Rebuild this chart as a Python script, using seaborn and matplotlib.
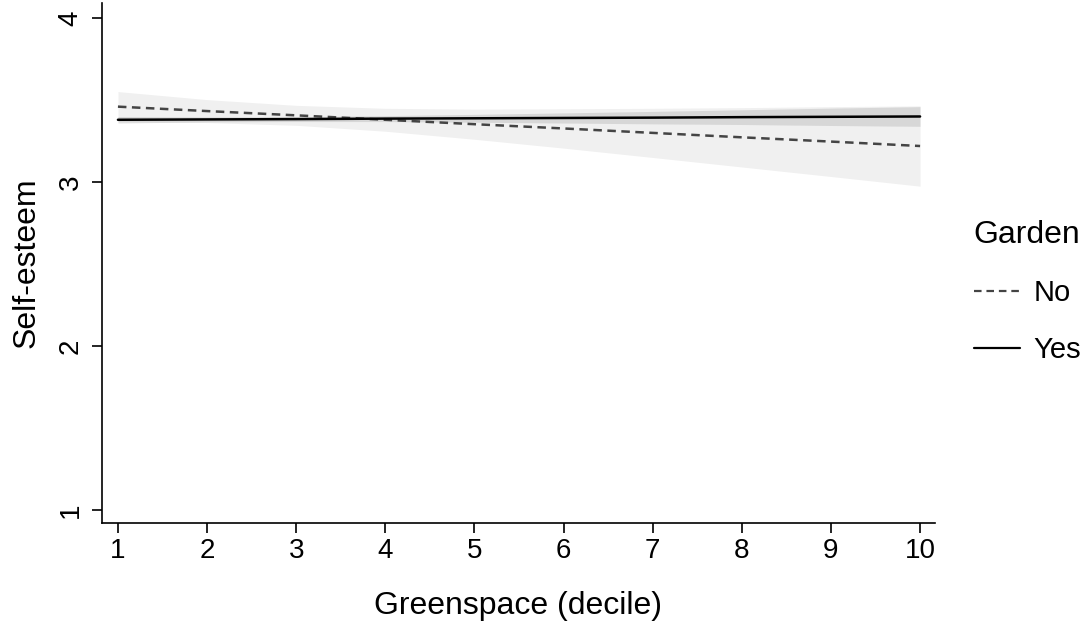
import matplotlib
matplotlib.use("Agg")
import matplotlib.pyplot as plt
import pandas as pd
import seaborn as sns

# fitted values, per greenspace decile
deciles = [1, 2, 3, 4, 5, 6, 7, 8, 9, 10]
no_fit = [3.460, 3.433, 3.407, 3.380, 3.353, 3.327, 3.300, 3.273, 3.247, 3.220]
no_lo = [3.368, 3.363, 3.346, 3.310, 3.261, 3.207, 3.150, 3.092, 3.034, 2.975]
no_hi = [3.552, 3.503, 3.468, 3.450, 3.445, 3.447, 3.450, 3.454, 3.460, 3.465]
yes_fit = [3.380, 3.382, 3.384, 3.387, 3.389, 3.391, 3.393, 3.396, 3.398, 3.400]
yes_lo = [3.360, 3.367, 3.369, 3.369, 3.365, 3.360, 3.355, 3.351, 3.345, 3.340]
yes_hi = [3.400, 3.397, 3.399, 3.405, 3.413, 3.422, 3.431, 3.441, 3.451, 3.460]
groups = ["No", "Yes"]

df = pd.concat([
    pd.DataFrame({"decile": deciles, "fit": no_fit, "Garden": "No"}),
    pd.DataFrame({"decile": deciles, "fit": yes_fit, "Garden": "Yes"}),
])

sns.set_style("white")
plt.rcParams['font.family'] = ['Liberation Sans', 'DejaVu Sans']
plt.rcParams['text.color'] = 'black'
plt.rcParams['axes.labelcolor'] = 'black'

fig = plt.figure(figsize=(10.84, 6.28), dpi=100)
ax = fig.add_axes([0.094, 0.167, 0.7686, 0.828])

# confidence bands
ax.fill_between(deciles, no_lo, no_hi, color="black", alpha=0.06, linewidth=0)
ax.fill_between(deciles, yes_lo, yes_hi, color="black", alpha=0.10, linewidth=0)

sns.lineplot(data=df, x="decile", y="fit", hue="Garden", style="Garden",
             hue_order=groups, style_order=groups,
             palette={"No": "#444444", "Yes": "black"},
             dashes={"No": (3.4, 2.2), "Yes": ""},
             linewidth=1.8, ax=ax)

ax.set_xlim(0.82, 10.168)
ax.set_ylim(0.921, 4.091)
ax.set_xticks(range(1, 11))
ax.set_yticks([1, 2, 3, 4])
ax.tick_params(axis="both", direction="out", length=7, width=1.2, labelsize=20,
               bottom=True, left=True, colors="black")
for lab in ax.get_yticklabels():
    lab.set_rotation(90)
    lab.set_va("center")
ax.tick_params(axis="y", pad=6)
sns.despine(ax=ax)
for s in ["left", "bottom"]:
    ax.spines[s].set_color("black")
    ax.spines[s].set_linewidth(1.2)

ax.set_xlabel("Greenspace (decile)", fontsize=23, labelpad=20)
ax.set_ylabel("Self-esteem", fontsize=23, labelpad=12)

handles, labels = ax.get_legend_handles_labels()
leg = ax.legend(handles, labels, title="Garden", frameon=False, fontsize=21,
                title_fontsize=23, loc="upper left",
                bbox_to_anchor=(0.874, 0.692), bbox_transform=fig.transFigure,
                handlelength=1.6, handletextpad=0.45, labelspacing=1.0,
                alignment="left")
for h in leg.legend_handles:
    h.set_linewidth(1.6)

fig.savefig("out.png", dpi=100)
